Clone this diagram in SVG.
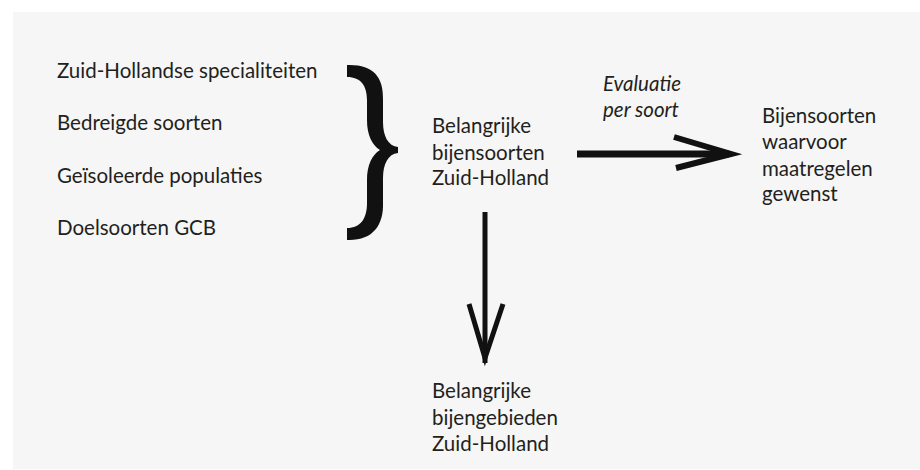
<svg xmlns="http://www.w3.org/2000/svg" width="920" height="470" viewBox="0 0 920 470">
<style>
text{font-family:Lato,"Open Sans","Liberation Sans",sans-serif;font-size:20.5px;fill:#231f20}
.it{font-style:italic}
.conn{stroke:#111;fill:none;stroke-linecap:butt}
</style>
<rect width="920" height="470" fill="#fff"/>
<rect x="13" y="12" width="907" height="457" fill="#f6f6f6"/>
<g id="sources">
<text x="57" y="78">Zuid-Hollandse specialiteiten</text>
<text x="57" y="130">Bedreigde soorten</text>
<text x="57" y="183">Geïsoleerde populaties</text>
<text x="57" y="235">Doelsoorten GCB</text>
</g>
<g id="brace">
<path fill="#111" d="M347,65 C372,64 384,76 383,100 L383,122 C383,136 388,146 398,147 L398,153 C388,154 383,164 383,178 L383,202 C384,226 372,241 347,240 L347,228 C361,228 367,218 367,203 L367,180 C367,165 372,155 380,150 C372,145 367,135 367,120 L367,100 C367,86 361,77 347,77 Z"/>
</g>
<g id="belangrijke-bijensoorten">
<text x="432" y="133">Belangrijke</text>
<text x="432" y="160">bijensoorten</text>
<text x="432" y="185">Zuid-Holland</text>
</g>
<g id="bijensoorten-maatregelen">
<text x="762" y="123">Bijensoorten</text>
<text x="762" y="149">waarvoor</text>
<text x="762" y="176">maatregelen</text>
<text x="762" y="201">gewenst</text>
</g>
<g id="belangrijke-bijengebieden">
<text x="432" y="398">Belangrijke</text>
<text x="432" y="425">bijengebieden</text>
<text x="432" y="451">Zuid-Holland</text>
</g>
<g id="connectors">
<path class="conn" stroke-width="7" d="M577,154 H729"/>
<path class="conn" stroke-width="6" d="M674,137 L731,154 L676,168"/>
<path class="conn" stroke-width="5" d="M485,212 V363"/>
<path class="conn" stroke-width="5" d="M469,304 L485,358 L503,304"/>
<text class="it" x="603" y="91">Evaluatie</text>
<text class="it" x="603" y="117">per soort</text>
</g>
</svg>
